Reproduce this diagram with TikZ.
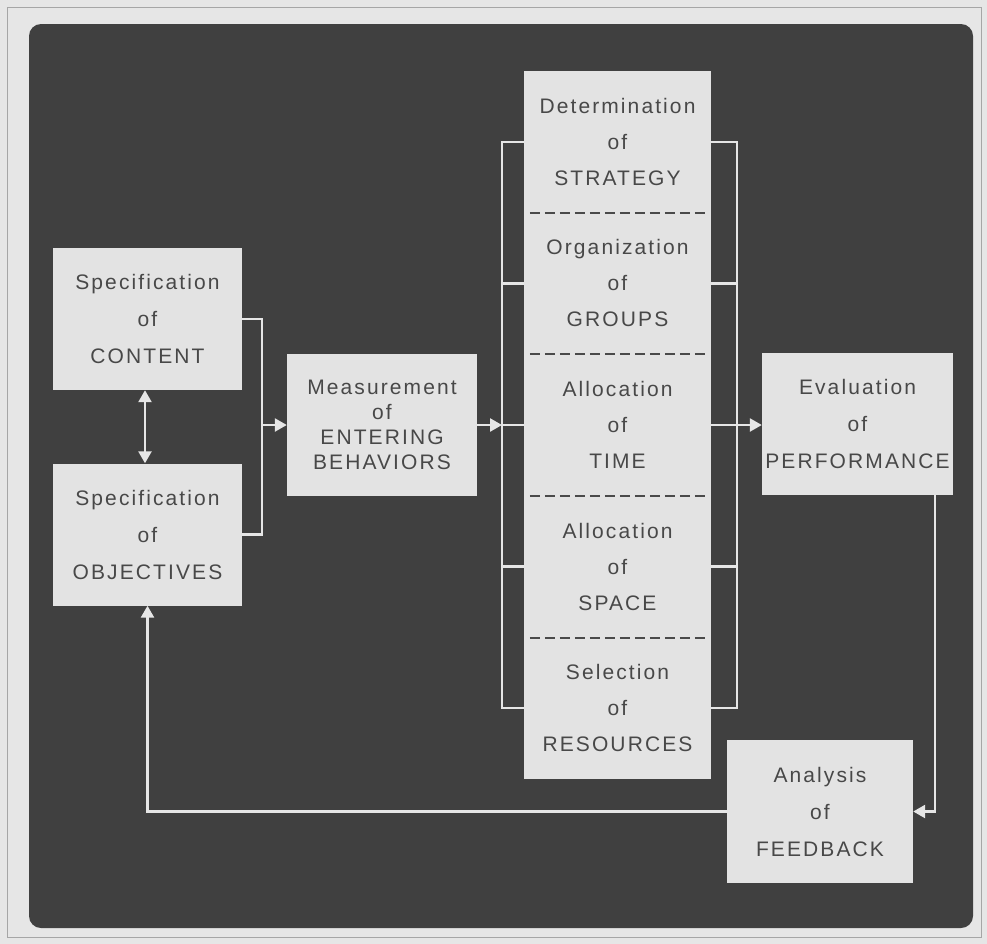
\documentclass[tikz,border=0pt]{standalone}
\usepackage{fontspec}
\newfontfamily\lab{Liberation Sans}[LetterSpace=10]
\usetikzlibrary{arrows.meta,calc}
\definecolor{bgout}{HTML}{E6E6E6}
\definecolor{bgdark}{HTML}{404040}
\definecolor{boxfill}{HTML}{E3E3E3}
\definecolor{txt}{HTML}{484848}
\definecolor{wirec}{HTML}{E6E6E6}
\definecolor{dashc}{HTML}{4A4A4A}
\begin{document}
\begin{tikzpicture}[x=1bp,y=-1bp,
 box/.style={fill=boxfill, minimum width=189bp, minimum height=142bp, inner sep=0pt, align=center, text=txt, font=\lab\fontsize{21bp}{37bp}\selectfont},
 sect/.style={minimum width=187bp, minimum height=141.6bp, inner sep=0pt, align=center, text=txt, font=\lab\fontsize{21bp}{36bp}\selectfont},
 wire/.style={draw=wirec, line width=2.5bp},
 tip/.tip={Triangle[length=12bp,width=13bp]},
 arr/.style={wire, -tip},
 divider/.style={draw=dashc, line width=2bp, dash pattern=on 10bp off 5bp}]
\useasboundingbox (0,0) rectangle (987,944);
\fill[bgout] (0,0) rectangle (987,944);
\draw[gray!70, line width=1bp] (7,7) rectangle (981,937);
\fill[bgdark, rounded corners=12bp] (29,24) rectangle (973,928);

\node[box] (content) at (147.5,319) {Specification\\of\\CONTENT};
\node[box] (objectives) at (147.5,534.5) {Specification\\of\\OBJECTIVES};
\node[box, minimum width=190bp, font=\lab\fontsize{21bp}{25bp}\selectfont] (measure) at (382,425) {Measurement\\of\\ENTERING\\BEHAVIORS};
\node[fill=boxfill, minimum width=187bp, minimum height=708bp, inner sep=0pt] (column) at (617.5,425) {};
\node[sect] (s1) at (617.5,141.8) {Determination\\of\\STRATEGY};
\node[sect] (s2) at (617.5,283.4) {Organization\\of\\GROUPS};
\node[sect] (s3) at (617.5,425) {Allocation\\of\\TIME};
\node[sect] (s4) at (617.5,566.6) {Allocation\\of\\SPACE};
\node[sect] (s5) at (617.5,708.2) {Selection\\of\\RESOURCES};
\node[box, minimum width=191bp] (evaluation) at (857.5,424) {Evaluation\\of\\PERFORMANCE};
\node[box, minimum width=186bp, minimum height=143bp] (feedback) at (820,811.5) {Analysis\\of\\FEEDBACK};

\foreach \s in {s1,s2,s3,s4}
  \draw[divider] ([xshift=6bp]\s.south west) -- ([xshift=-6bp]\s.south east);

\draw[wire, tip-tip] ([xshift=-2.5bp]content.south) -- ([xshift=-2.5bp]objectives.north);
\coordinate (jA) at (262,425);
\draw[wire] (content.east) -| (jA) |- (objectives.east);
\draw[arr] (jA) -- (measure.west);

\coordinate (lb) at (502,425);
\draw[wire] (s1.west) -| (lb) |- (s5.west);
\draw[wire] (s2.west) -- (s2.west -| lb);
\draw[wire] (s4.west) -- (s4.west -| lb);
\draw[wire] (lb) -- (s3.west);
\draw[arr] (measure.east) -- (lb);

\coordinate (rb) at (737,425);
\draw[wire] (s1.east) -| (rb) |- (s5.east);
\draw[wire] (s2.east) -- (s2.east -| rb);
\draw[wire] (s4.east) -- (s4.east -| rb);
\draw[arr] (s3.east) -- (s3.east -| evaluation.west);

\draw[arr] ([xshift=-18bp]evaluation.south east) |- (feedback.east);
\draw[arr] (feedback.west) -| (objectives.south);
\end{tikzpicture}
\end{document}
